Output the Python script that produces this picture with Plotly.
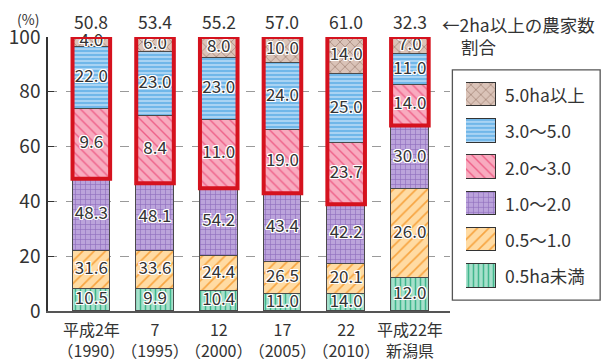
import plotly.graph_objects as go

# ---- data ----
categories = ["平成2年<br>（1990）", "7<br>（1995）", "12<br>（2000）", "17<br>（2005）", "22<br>（2010）", "平成22年<br>新潟県"]
classes = ["0.5ha未満", "0.5～1.0", "1.0～2.0", "2.0～3.0", "3.0～5.0", "5.0ha以上"]

# drawn segment heights (bottom -> top), per class, across the 6 bars
h_lt05 = [8.2, 8.2, 7.2, 6.1, 6.1, 12.1]
h_05_10 = [13.6, 13.6, 12.9, 11.8, 11.2, 32.3]
h_10_20 = [26.5, 24.8, 24.7, 25.1, 21.7, 23.3]
h_20_30 = [25.4, 24.6, 25.0, 23.1, 22.2, 14.9]
h_30_50 = [22.5, 23.2, 22.5, 24.4, 25.3, 11.2]
h_ge50 = [3.8, 5.6, 7.7, 9.5, 13.5, 6.2]

# printed labels
l_lt05 = ["10.5", "9.9", "10.4", "11.0", "14.0", "12.0"]
l_05_10 = ["31.6", "33.6", "24.4", "26.5", "20.1", "26.0"]
l_10_20 = ["48.3", "48.1", "54.2", "43.4", "42.2", "30.0"]
l_20_30 = ["9.6", "8.4", "11.0", "19.0", "23.7", "14.0"]
l_30_50 = ["22.0", "23.0", "23.0", "24.0", "25.0", "11.0"]
l_ge50 = ["4.0", "6.0", "8.0", "10.0", "14.0", "7.0"]

share_2ha = ["50.8", "53.4", "55.2", "57.0", "61.0", "32.3"]
y_ticks = [0, 20, 40, 60, 80, 100]

heights = [h_lt05, h_05_10, h_10_20, h_20_30, h_30_50, h_ge50]
labels = [l_lt05, l_05_10, l_10_20, l_20_30, l_30_50, l_ge50]

# ---- styles ----
patterns = [
    dict(shape="|", bgcolor="#a6e0cb", fgcolor="#3fb68c", size=5, solidity=0.3),
    dict(shape="/", bgcolor="#ffdba3", fgcolor="#f7a440", size=8, solidity=0.2),
    dict(shape="+", bgcolor="#bba3db", fgcolor="#8d6bbb", size=5, solidity=0.22),
    dict(shape="\\", bgcolor="#f8abbf", fgcolor="#ee6088", size=7, solidity=0.2),
    dict(shape="-", bgcolor="#a9d3f3", fgcolor="#4aa5e3", size=4, solidity=0.3),
    dict(shape="x", bgcolor="#dac3b8", fgcolor="#a08174", size=7, solidity=0.2),
]
FONT = "Noto Sans CJK JP"
TXT = "#333333"
RED = "#d5121e"
BAR_W = 0.59
halo = "1px 1px 0 #fff, -1px -1px 0 #fff, 1px -1px 0 #fff, -1px 1px 0 #fff, 0 1px 0 #fff, 0 -1px 0 #fff, 1px 0 0 #fff, -1px 0 0 #fff"

xs = list(range(len(categories)))
fig = go.Figure()

for k in range(len(classes)):
    fig.add_trace(go.Bar(
        x=xs, y=heights[k], width=BAR_W,
        marker=dict(pattern=dict(fillmode="replace", **patterns[k]),
                    line=dict(color="#4a4a4a", width=1)),
        hoverinfo="skip", xaxis="x", yaxis="y",
    ))

# segment labels at the middle of each drawn segment
tx, ty, tt = [], [], []
for i in xs:
    base = 0.0
    for k in range(len(classes)):
        h = heights[k][i]
        tx.append(i)
        ty.append(base + h / 2)
        tt.append(labels[k][i])
        base += h
fig.add_trace(go.Scatter(
    x=tx, y=ty, text=tt, mode="text", textposition="middle center",
    textfont=dict(family=FONT, size=17, color=TXT, shadow=halo),
    cliponaxis=False, hoverinfo="skip", xaxis="x", yaxis="y",
))

# red boxes around the >=2ha part
for i in xs:
    y0 = sum(heights[k][i] for k in range(3))
    y1 = sum(heights[k][i] for k in range(6))
    fig.add_shape(type="rect", xref="x", yref="y", x0=i - BAR_W / 2, x1=i + BAR_W / 2,
                  y0=y0, y1=y1, line=dict(color=RED, width=4), fillcolor="rgba(0,0,0,0)",
                  layer="above")
    fig.add_annotation(x=i, y=y1, xref="x", yref="y", text=share_2ha[i], showarrow=False,
                       yanchor="bottom", yshift=1, font=dict(family=FONT, size=17.5, color=TXT))

# ---- custom legend (swatches as bars on a hidden axis) ----
order = list(range(len(classes)))[::-1]  # top row: 5.0ha以上
for row, k in enumerate(order):
    fig.add_trace(go.Bar(
        y=[row], x=[1], base=0, orientation="h", width=0.65,
        marker=dict(pattern=dict(fillmode="replace", **patterns[k]),
                    line=dict(color="#333333", width=1.2)),
        hoverinfo="skip", xaxis="x2", yaxis="y2",
    ))
    fig.add_annotation(x=0.807, y=row, xref="paper", yref="y2", text=classes[k],
                       showarrow=False, xanchor="left", yanchor="middle",
                       font=dict(family=FONT, size=17.5, color=TXT))

fig.add_shape(type="rect", xref="paper", yref="paper", x0=0.717, x1=0.979, y0=0.040, y1=0.880,
              line=dict(color="#555555", width=1.3), fillcolor="rgba(0,0,0,0)", layer="above")

fig.add_annotation(x=-0.0346, y=1.0657, xref="paper", yref="paper", text="(%)", showarrow=False,
                   xanchor="center", yanchor="middle", font=dict(family=FONT, size=14, color=TXT))
fig.add_annotation(x=0.695, y=1.044, xref="paper", yref="paper", text="←2ha以上の農家数",
                   showarrow=False, xanchor="left", yanchor="middle",
                   font=dict(family=FONT, size=17.5, color=TXT))
fig.add_annotation(x=0.729, y=0.967, xref="paper", yref="paper", text="割合",
                   showarrow=False, xanchor="left", yanchor="middle",
                   font=dict(family=FONT, size=17.5, color=TXT))

fig.update_layout(
    width=612, height=360,
    margin=dict(l=48, r=0, t=37, b=49),
    paper_bgcolor="white", plot_bgcolor="white",
    barmode="stack", showlegend=False, bargap=0,
    font=dict(family=FONT, color=TXT),
    xaxis=dict(domain=[0, 0.7128], range=[-0.68, 5.63], tickvals=xs, ticktext=categories,
               tickangle=0, automargin=False, ticklabelstandoff=4,
               showgrid=False, zeroline=False, showline=True, linecolor="#555555", linewidth=2,
               ticks="", tickfont=dict(family=FONT, size=16, color=TXT), fixedrange=True),
    yaxis=dict(range=[0, 100], tickvals=y_ticks, showgrid=True, gridcolor="#9a9a9a",
               automargin=False,
               griddash="dash", gridwidth=1, zeroline=False, showline=True, linecolor="#333333",
               linewidth=1.5, ticks="inside", ticklen=6, tickcolor="#333333",
               tickfont=dict(family=FONT, size=19, color=TXT), ticklabelstandoff=2),
    xaxis2=dict(domain=[0.7411, 0.7943], range=[0, 1], visible=False, anchor="y2"),
    yaxis2=dict(domain=[0.040, 0.880], range=[5.671, -0.682], visible=False, anchor="x2"),
)

fig.write_html("out.html", config={"displayModeBar": False},
               post_script="document.body.style.margin='0';document.body.style.padding='0';")
